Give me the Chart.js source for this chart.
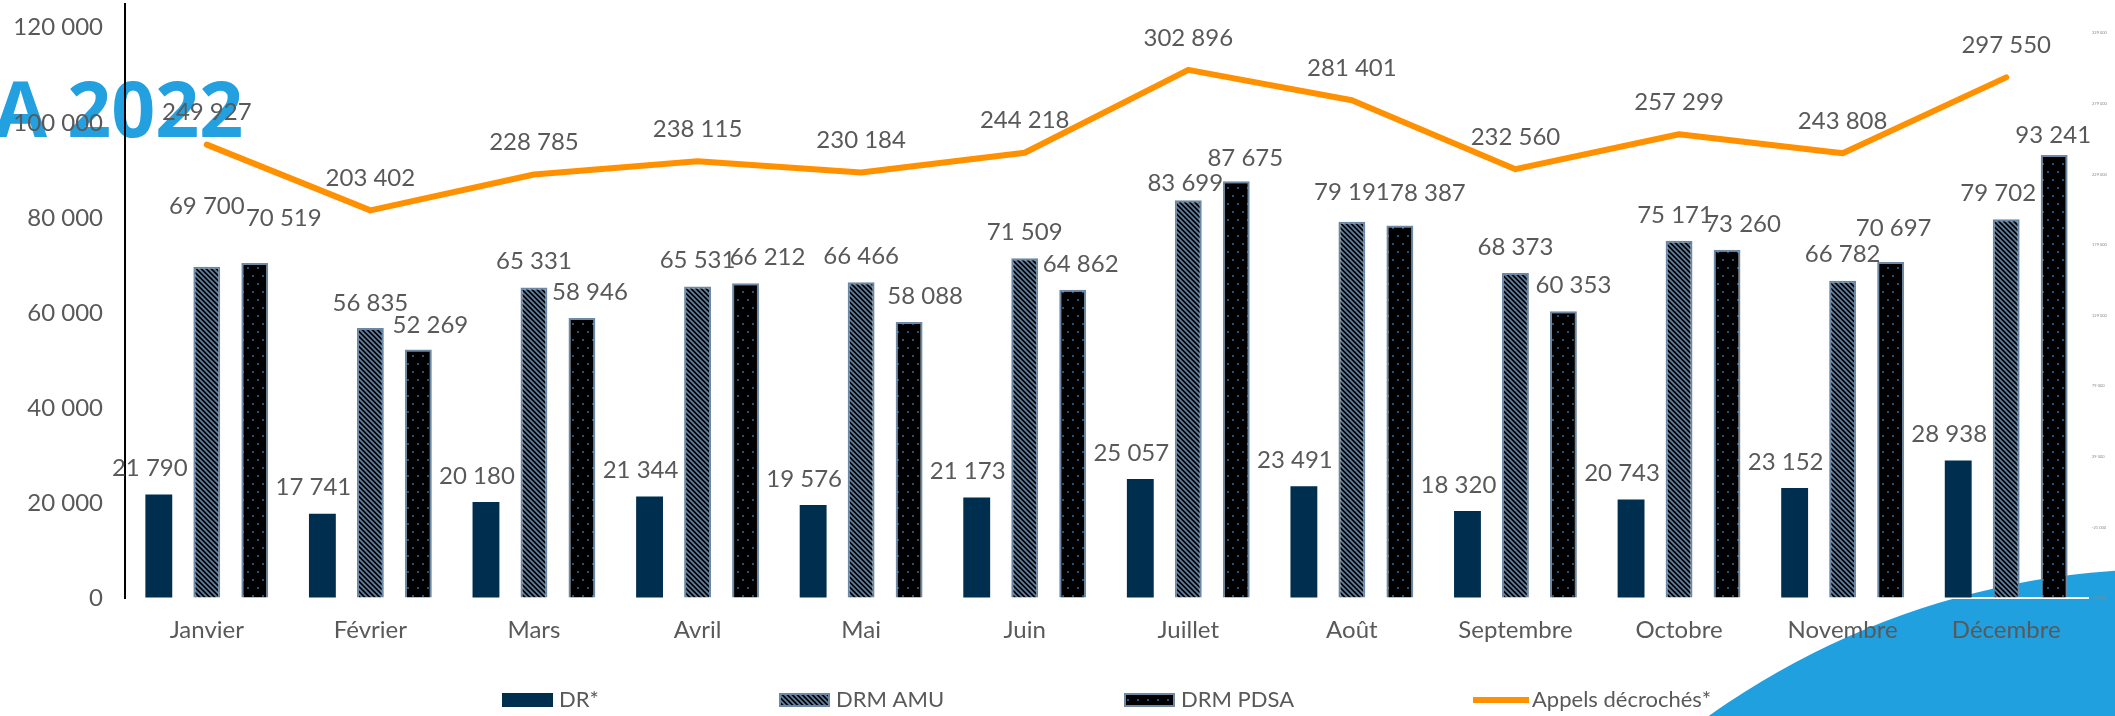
<!DOCTYPE html>
<html>
<head>
<meta charset="utf-8">
<script src="https://cdn.jsdelivr.net/npm/chart.js@4.4.0/dist/chart.umd.min.js"></script>
<style>
  html, body { margin: 0; padding: 0; background: #fff; }
  canvas { display: block; }
</style>
</head>
<body>
<canvas id="chart" width="2115" height="716"></canvas>
<script>
// data
const months = ['Janvier', 'Février', 'Mars', 'Avril', 'Mai', 'Juin', 'Juillet', 'Août', 'Septembre', 'Octobre', 'Novembre', 'Décembre'];
const dr = [21790, 17741, 20180, 21344, 19576, 21173, 25057, 23491, 18320, 20743, 23152, 28938];
const drmAmu = [69700, 56835, 65331, 65531, 66466, 71509, 83699, 79191, 68373, 75171, 66782, 79702];
const drmPdsa = [70519, 52269, 58946, 66212, 58088, 64862, 87675, 78387, 60353, 73260, 70697, 93241];
const appels = [249927, 203402, 228785, 238115, 230184, 244218, 302896, 281401, 232560, 257299, 243808, 297550];
const leftTicks = [0, 20000, 40000, 60000, 80000, 100000, 120000];
const rightTicks = [-71000, -21000, 29000, 79000, 129000, 179000, 229000, 279000, 329000];

// hand-moved value labels in the original: [dx, lift] per month
const amuLabelNudge = [[0, 61], [0, 25], [0, 26], [0, 26], [0, 26], [0, 26], [-3, 17], [0, 29], [0, 26], [-4, 26], [0, 26], [-8, 26]];
const pdsaLabelNudge = [[29, 45], [12, 24], [8, 26], [22, 26], [16, 26], [8, 26], [9, 23], [28, 32], [10, 26], [16, 26], [3, 34], [-1, 20]];

const FONT = 'Lato, "Open Sans", sans-serif';
const GREY = '#595959';

function fmt(v) {
  const s = String(Math.abs(v)).replace(/\B(?=(\d{3})+(?!\d))/g, ' ');
  return v < 0 ? '-' + s : s;
}

// hatch for DRM AMU
function stripes() {
  const c = document.createElement('canvas');
  c.width = 5; c.height = 5;
  const g = c.getContext('2d');
  g.fillStyle = '#000';
  g.fillRect(0, 0, 5, 5);
  g.strokeStyle = '#5f7f9f';
  g.lineWidth = 1.8;
  g.beginPath();
  g.moveTo(-5, -5); g.lineTo(10, 10);
  g.moveTo(-5, 0); g.lineTo(5, 10);
  g.moveTo(0, -5); g.lineTo(10, 5);
  g.stroke();
  return g.createPattern(c, 'repeat');
}

// dotted black for DRM PDSA
function dots() {
  const c = document.createElement('canvas');
  c.width = 10; c.height = 16;
  const g = c.getContext('2d');
  g.fillStyle = '#000';
  g.fillRect(0, 0, 10, 16);
  g.fillStyle = '#1d5282';
  g.fillRect(2, 3, 2, 2);
  g.fillRect(7, 11, 2, 2);
  return g.createPattern(c, 'repeat');
}

const ctx = document.getElementById('chart').getContext('2d');

// background shape + cut title, behind the chart
const decor = {
  id: 'decor',
  beforeDraw(chart) {
    const c = chart.ctx;
    c.save();
    c.fillStyle = '#21a0e0';
    c.beginPath();
    c.arc(2168, 1360, 791, 0, Math.PI * 2);
    c.fill();
    c.font = 'bold 77px "Open Sans", sans-serif';
    c.fillStyle = '#22a0e0';
    c.textBaseline = 'alphabetic';
    c.fillText('A 2022', -6, 137);
    c.restore();
  }
};

const valueLabels = {
  id: 'valueLabels',
  afterDatasetsDraw(chart) {
    const c = chart.ctx;
    c.save();
    c.font = '24px ' + FONT;
    c.fillStyle = GREY;
    c.textAlign = 'center';
    c.textBaseline = 'middle';
    chart.data.datasets.forEach((ds, i) => {
      const meta = chart.getDatasetMeta(i);
      meta.data.forEach((el, j) => {
        let dx = ds.labelDx || 0;
        let lift = ds.type === 'line' ? 32 : 26;
        if (ds.nudge) { dx = ds.nudge[j][0]; lift = ds.nudge[j][1]; }
        c.fillText(fmt(ds.data[j]), el.x + dx, el.y - lift);
      });
    });
    c.restore();
  }
};

const legendStarts = [502, 779, 1124, 1473];
const customLegend = {
  id: 'customLegend',
  afterDraw(chart) {
    const c = chart.ctx;
    const y = 700;
    c.save();
    c.font = '22px ' + FONT;
    c.textBaseline = 'middle';
    c.textAlign = 'left';
    chart.data.datasets.forEach((ds, i) => {
      const x = legendStarts[i];
      if (ds.type === 'line') {
        c.strokeStyle = ds.borderColor;
        c.lineWidth = 6;
        c.beginPath();
        c.moveTo(x, y); c.lineTo(x + 56, y);
        c.stroke();
      } else {
        c.fillStyle = ds.backgroundColor;
        c.fillRect(x, y - 7, 51, 14);
        if (ds.borderWidth) {
          c.strokeStyle = ds.borderColor;
          c.lineWidth = 2;
          c.strokeRect(x + 1, y - 6, 49, 12);
        }
      }
      c.fillStyle = GREY;
      c.fillText(ds.label, x + (ds.type === 'line' ? 59 : 57), y);
    });
    c.restore();
  }
};

new Chart(ctx, {
  data: {
    labels: months,
    datasets: [
      {
        type: 'bar',
        label: 'DR*',
        data: dr,
        backgroundColor: '#002e4f',
        borderWidth: 0,
        labelDx: -9,
        order: 2
      },
      {
        type: 'bar',
        label: 'DRM AMU',
        data: drmAmu,
        backgroundColor: stripes(),
        borderColor: '#6a88a6',
        borderWidth: 2,
        nudge: amuLabelNudge,
        order: 2
      },
      {
        type: 'bar',
        label: 'DRM PDSA',
        data: drmPdsa,
        backgroundColor: dots(),
        borderColor: '#6d89a6',
        borderWidth: 2,
        nudge: pdsaLabelNudge,
        order: 2
      },
      {
        type: 'line',
        label: 'Appels décrochés*',
        data: appels,
        yAxisID: 'y2',
        borderColor: '#ff9100',
        backgroundColor: '#ff9100',
        borderWidth: 6,
        borderCapStyle: 'round',
        borderJoinStyle: 'round',
        pointRadius: 0,
        tension: 0,
        order: 1
      }
    ]
  },
  options: {
    responsive: false,
    animation: false,
    devicePixelRatio: 1,
    layout: { padding: { top: 4, bottom: 60, left: 0, right: 0 } },
    datasets: {
      bar: { barPercentage: 0.56, categoryPercentage: 0.88 }
    },
    plugins: {
      legend: { display: false },
      tooltip: { enabled: false }
    },
    scales: {
      x: {
        grid: { drawOnChartArea: false, drawTicks: false },
        border: { display: true, color: '#ffffff', width: 2 },
        ticks: {
          color: GREY,
          font: { family: FONT, size: 24 },
          padding: 18,
          autoSkip: false,
          maxRotation: 0
        },
        afterFit(s) { s.height = 58; s.paddingLeft = 0; s.paddingRight = 0; }
      },
      y: {
        position: 'left',
        min: 0,
        max: 125000,
        afterBuildTicks(s) { s.ticks = leftTicks.map(v => ({ value: v })); },
        grid: { drawOnChartArea: false, drawTicks: false },
        border: { display: true, color: '#000', width: 2 },
        ticks: {
          color: GREY,
          font: { family: FONT, size: 24 },
          padding: 22,
          callback: v => fmt(v)
        },
        afterFit(s) { s.width = 125; s.paddingTop = 0; s.paddingBottom = 0; }
      },
      y2: {
        position: 'right',
        min: -71000,
        max: 349500,
        afterBuildTicks(s) { s.ticks = rightTicks.map(v => ({ value: v })); },
        grid: { drawOnChartArea: false, drawTicks: false },
        border: { display: false },
        ticks: {
          color: '#888',
          font: { family: FONT, size: 4 },
          padding: 4,
          callback: v => fmt(v)
        },
        afterFit(s) { s.width = 27; s.paddingTop = 0; s.paddingBottom = 0; }
      }
    }
  },
  plugins: [decor, valueLabels, customLegend]
});
</script>
</body>
</html>
